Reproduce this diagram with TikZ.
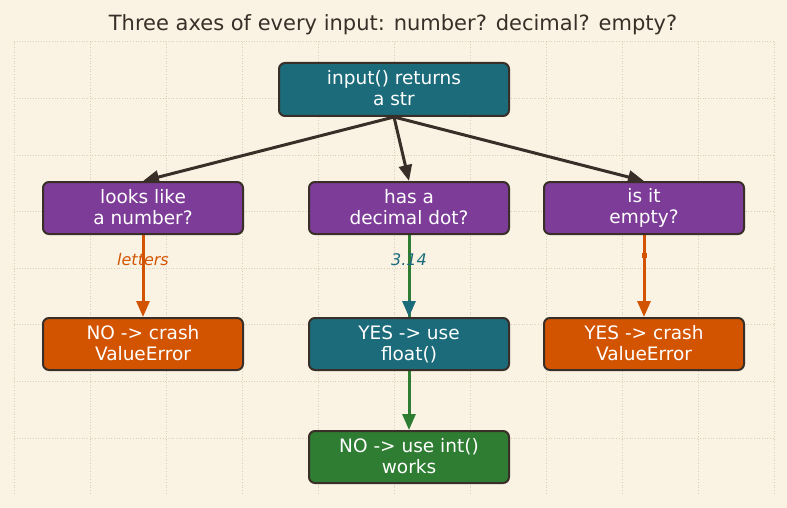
\documentclass[tikz,border=0pt]{standalone}
\usepackage{fontspec}
\setmainfont{DejaVu Sans}
\usetikzlibrary{arrows.meta,backgrounds}
\definecolor{bg}{HTML}{FAF3E4}
\definecolor{ink}{HTML}{3A2F28}
\definecolor{gridc}{HTML}{D9D0BC}
\definecolor{tealc}{HTML}{1B6B7B}
\definecolor{purp}{HTML}{7D3C98}
\definecolor{orng}{HTML}{D35400}
\definecolor{grn}{HTML}{2E7D32}
% fixed line extent so every two-line label sits at the same height
\newcommand\boxstrut{\rule[-2.6pt]{0pt}{19.6pt}}
\tikzset{
  box/.style={draw=ink, line width=2pt, rounded corners=6pt, text=white,
    minimum width=200pt, minimum height=52pt, align=center, inner sep=0pt,
    font=\fontsize{18.5}{21}\selectfont,
    execute at begin node=\boxstrut, execute at end node=\boxstrut},
  link/.style={line width=3pt, -{Triangle[length=16pt,width=13pt]}},
  lbl/.style={font=\fontsize{16}{18}\selectfont\itshape, inner sep=0pt},
}
\begin{document}
\begin{tikzpicture}[x=1pt,y=-1pt]
  \useasboundingbox (0,0) rectangle (787,508);

  % title
  \node[text=ink, font=\fontsize{21}{24}\selectfont] (title) at (393,25)
    {Three axes of every input: number? decimal? empty?};

  % boxes
  \node[box, fill=tealc, minimum width=230pt, minimum height=53pt] (src) at (394,89.5) {input() returns\\a str};
  \node[box, fill=purp] (num) at (143,208) {looks like\\a number?};
  \node[box, fill=purp] (dec) at (409,208) {has a\\decimal dot?};
  \node[box, fill=purp] (emp) at (644,208) {is it\\empty?};
  \node[box, fill=orng] (crash1) at (143,344) {NO -> crash\\ValueError};
  \node[box, fill=tealc] (flt) at (409,344) {YES -> use\\float()};
  \node[box, fill=orng] (crash2) at (644,344) {YES -> crash\\ValueError};
  \node[box, fill=grn] (int) at (409,457) {NO -> use int()\\works};

  \begin{scope}[on background layer]
    % paper
    \fill[bg] (0,0) rectangle (787,508);
    % dotted grid
    \foreach \k in {0,...,10}
      \draw[gridc, line width=0.7pt, dotted] ({14+76*\k},41.7) -- ({14+76*\k},495);
    \foreach \k in {0,...,7}
      \draw[gridc, line width=0.7pt, dotted] (14,{41.7+56.6*\k}) -- (774,{41.7+56.6*\k});

    % connectors
    \draw[link, ink] (src.south) -- (num.north);
    \draw[link, ink] (src.south) -- (dec.north);
    \draw[link, ink] (src.south) -- (emp.north);
    \draw[link, orng] (num.south) -- (crash1.north);
    \draw[link, orng] (emp.south) -- (crash2.north);
    \draw[link, grn] (dec.south) -- (int.north);
    % teal head of the decimal -> float() branch sits over the green shaft
    \coordinate (fltin) at ([yshift=17pt]flt.north);
    \draw[link, tealc] (fltin) -- (flt.north);
  \end{scope}

  % edge labels
  \node[lbl, text=orng] (lletters) at (143,260) {letters};
  \node[lbl, text=tealc] (lpi) at (409,260) {3.14};
  \node[fill=orng, minimum size=5pt, inner sep=0pt] (lempty) at (644,255.5) {};
\end{tikzpicture}
\end{document}
